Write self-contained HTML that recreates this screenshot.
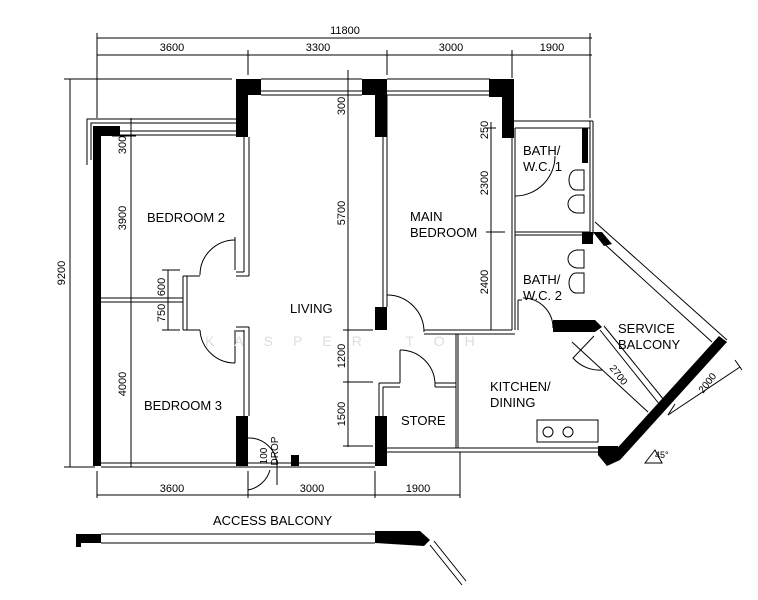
<!DOCTYPE html>
<html><head><style>body{margin:0;background:#fff}svg{display:block}text{font-family:"Liberation Sans",sans-serif;fill:#000}</style></head><body>
<svg width="758" height="600" viewBox="0 0 758 600" xmlns="http://www.w3.org/2000/svg">
<g stroke="#000" stroke-width="1" fill="none">
<line x1="97" y1="38" x2="592" y2="38"/><line x1="97" y1="55" x2="592" y2="55"/>
<line x1="97" y1="33" x2="97" y2="118"/><line x1="248" y1="50" x2="248" y2="75"/><line x1="387" y1="50" x2="387" y2="75"/><line x1="512" y1="50" x2="512" y2="78"/><line x1="590" y1="33" x2="590" y2="118"/>
<line x1="70" y1="79" x2="70" y2="467"/><line x1="64" y1="79" x2="232" y2="79"/><line x1="64" y1="467" x2="95" y2="467"/>
<line x1="131" y1="118" x2="131" y2="467"/>
<line x1="112" y1="136" x2="136" y2="136"/>
<line x1="168" y1="270" x2="168" y2="330"/><line x1="162" y1="270" x2="180" y2="270"/><line x1="162" y1="330" x2="180" y2="330"/>
<line x1="348" y1="70" x2="348" y2="447"/>
<line x1="343" y1="330" x2="373" y2="330"/><line x1="343" y1="382" x2="373" y2="382"/><line x1="343" y1="446" x2="373" y2="446"/>
<line x1="491" y1="122" x2="491" y2="330"/><line x1="486" y1="232" x2="505" y2="232"/><line x1="486" y1="128" x2="496" y2="128"/>
<line x1="97" y1="495" x2="460" y2="495"/>
<line x1="97" y1="471" x2="97" y2="498"/><line x1="248" y1="471" x2="248" y2="498"/><line x1="375" y1="471" x2="375" y2="498"/><line x1="460" y1="452" x2="460" y2="498"/>
<path d="M87 165 V119 H236 M91 160 V123 H236 M101 135 H236 M101 131 H236"/>
<path d="M261 79 H362 M261 95 H362 M261 91 H362"/>
<path d="M387 79 H490 M387 95 H490 M387 91 H490"/>
<path d="M244 137 V272 M249 137 V276 M236 272 H244 M236 276 H249"/>
<path d="M101 298 H183 M101 302 H183 M183 276 V330 M187 276 V330 M183 276 H200 M187 330 H200 M183 330 H187"/>
<path d="M244 330 V416 M249 327 V416 M236 327 H249 M236 331 H244"/>
<path d="M101 463 H375 M101 467 H375"/>
<path d="M383 95 V307 M387 95 V307"/>
<path d="M424 330 H512 M424 334 H515 M512 128 V330 M515 128 V330 M515 232 H590 M515 235 H590"/>
<path d="M515 128 H590 M590 121 V235 M593 121 V235 M514 121 H593"/>
<path d="M387 448 H600 M387 452 H600 M456 334 V448 M458 334 V448"/>
<path d="M379 383 V448 M383 387 V448 M379 383 H400 M383 387 H400 M435 383 H456 M435 387 H456 M400 383 V350 M435 383 V387"/>
<path d="M518 300 V330 M518 300 H522"/>
<path d="M595 222 L727 340"/>
<path d="M600 240 L712 342"/>
<path d="M600 330 L660 405 M604 326 L664 400"/>
<path d="M572 342 L648 412"/>
<path d="M594 336 L573 358 A35 35 0 0 0 602 370"/>
<line x1="668" y1="415" x2="740" y2="367"/><line x1="675" y1="404" x2="668" y2="415"/><line x1="735" y1="360" x2="742" y2="370"/>
<rect x="537" y="420" width="61" height="22"/><circle cx="548" cy="432" r="5"/><circle cx="568" cy="432" r="5"/>
<path d="M584 170 h-8 a7 10 0 0 0 0 20 h8z M584 195 h-6 a10 9 0 1 0 0 18 h6z M584 250 h-6 a10 9 0 1 0 0 18 h6z M584 273 h-8 a7 10 0 0 0 0 20 h8z"/>
<path d="M235 240 A35 35 0 0 0 200 275"/><path d="M235 237 V270"/>
<path d="M235 363 A35 35 0 0 1 200 330"/><path d="M235 330 V363"/>
<path d="M387 295 A37 37 0 0 1 424 332"/>
<path d="M400 350 A35 35 0 0 1 435 383"/>
<path d="M515 196 A40 40 0 0 0 555 156 M515 156 V196"/>
<path d="M523 298 A30 30 0 0 1 553 328"/>
<path d="M248 438 A28 28 0 0 1 277 466 V485 M248 490 A28 28 0 0 0 270 470"/>
<path d="M101 534 H375 M101 543 H375 M430 545 L462 585 M434 541 L466 581"/>
<path d="M645 463 L655 450 L662 463 Z"/>
</g>
<g fill="#000">
<rect x="93" y="128" width="8" height="338"/>
<rect x="93" y="126" width="27" height="10"/>
<rect x="236" y="79" width="25" height="16"/><rect x="236" y="95" width="12" height="42"/>
<rect x="362" y="79" width="25" height="16"/><rect x="375" y="95" width="12" height="42"/>
<rect x="489" y="79" width="25" height="18"/><rect x="502" y="97" width="12" height="41"/>
<rect x="375" y="307" width="12" height="23"/>
<rect x="236" y="416" width="12" height="50"/><rect x="375" y="416" width="12" height="50"/>
<rect x="291" y="455" width="8" height="11"/>
<rect x="582" y="128" width="6" height="35"/>
<rect x="582" y="232" width="11" height="12"/>
<polygon points="553,320 595,320 602,327 595,332 553,332"/>
<polygon points="593,232 602,232 612,244 604,246"/>
<polygon points="719,336 727,342 620,460 612,454"/>
<polygon points="598,446 618,446 620,460 607,466 598,455"/>
<rect x="76" y="534" width="25" height="9"/><rect x="76" y="540" width="5" height="7"/>
<polygon points="375,531 420,531 430,540 424,546 375,543"/>
</g>
<g font-size="11" text-anchor="middle">
<text x="345" y="34">11800</text>
<text x="172" y="51">3600</text><text x="318" y="51">3300</text><text x="451" y="51">3000</text><text x="552" y="51">1900</text>
<text x="172" y="492">3600</text><text x="312" y="492">3000</text><text x="418" y="492">1900</text>
</g>
<g font-size="11" text-anchor="middle">
<text transform="translate(65,273) rotate(-90)">9200</text>
<text transform="translate(126,145) rotate(-90)">300</text>
<text transform="translate(126,218) rotate(-90)">3900</text>
<text transform="translate(126,384) rotate(-90)">4000</text>
<text transform="translate(165,287) rotate(-90)">600</text>
<text transform="translate(165,313) rotate(-90)">750</text>
<text transform="translate(345,106) rotate(-90)">300</text>
<text transform="translate(345,213) rotate(-90)">5700</text>
<text transform="translate(345,356) rotate(-90)">1200</text>
<text transform="translate(345,414) rotate(-90)">1500</text>
<text transform="translate(488,130) rotate(-90)">250</text>
<text transform="translate(488,183) rotate(-90)">2300</text>
<text transform="translate(488,282) rotate(-90)">2400</text>
<text transform="translate(267,456) rotate(-90)" font-size="10">100</text>
<text transform="translate(278,451) rotate(-90)" font-size="10">DROP</text>
<text transform="translate(616,377) rotate(52)" font-size="10">2700</text>
<text transform="translate(710,385) rotate(-52)" font-size="10">2000</text>
</g>
<g font-size="13">
<text x="147" y="222">BEDROOM 2</text>
<text x="144" y="410">BEDROOM 3</text>
<text x="290" y="313">LIVING</text>
<text x="410" y="221">MAIN</text><text x="410" y="237">BEDROOM</text>
<text x="523" y="155">BATH/</text><text x="523" y="171">W.C. 1</text>
<text x="523" y="284">BATH/</text><text x="523" y="300">W.C. 2</text>
<text x="618" y="333">SERVICE</text><text x="618" y="349">BALCONY</text>
<text x="490" y="391">KITCHEN/</text><text x="490" y="407">DINING</text>
<text x="401" y="425">STORE</text>
<text x="213" y="525">ACCESS BALCONY</text>
<text x="655" y="458" font-size="9">45°</text>
</g>
<text x="205" y="346" font-size="14" fill="#ddd" style="fill:#ddd" letter-spacing="20">KASPER TOH</text>
</svg>
</body></html>
